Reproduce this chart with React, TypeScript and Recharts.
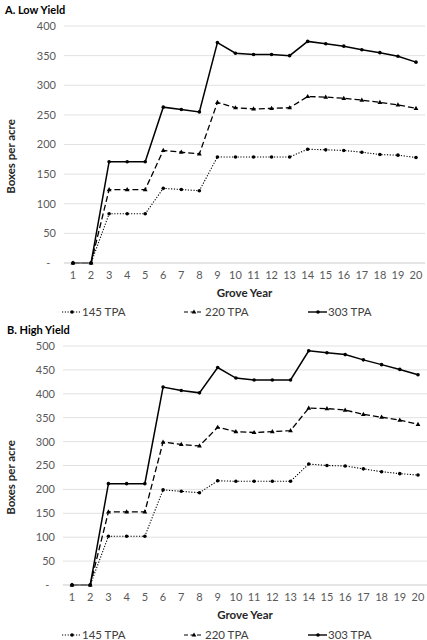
import { LineChart, Line, XAxis, YAxis, CartesianGrid } from "recharts";

const years = [1, 2, 3, 4, 5, 6, 7, 8, 9, 10, 11, 12, 13, 14, 15, 16, 17, 18, 19, 20];

// A. Low Yield
const low145 = [0, 0, 83, 83, 83, 126, 124, 122, 179, 179, 179, 179, 179, 192, 191, 190, 187, 183, 182, 178];
const low220 = [0, 0, 124, 124, 124, 190, 187, 184, 271, 262, 260, 261, 262, 281, 280, 278, 275, 271, 267, 261];
const low303 = [0, 0, 171, 171, 171, 263, 259, 255, 372, 354, 352, 352, 350, 374, 370, 366, 360, 355, 349, 339];
const lowTicks = [0, 50, 100, 150, 200, 250, 300, 350, 400];

// B. High Yield
const high145 = [0, 0, 102, 102, 102, 199, 196, 193, 218, 217, 217, 217, 217, 253, 250, 249, 243, 237, 233, 230];
const high220 = [0, 0, 153, 153, 153, 299, 294, 291, 330, 321, 319, 321, 323, 370, 369, 366, 357, 351, 345, 336];
const high303 = [0, 0, 212, 212, 212, 414, 407, 402, 455, 433, 429, 429, 429, 490, 486, 482, 471, 461, 451, 440];
const highTicks = [0, 50, 100, 150, 200, 250, 300, 350, 400, 450, 500];

const seriesNames = ["145 TPA", "220 TPA", "303 TPA"];

const FONT = "Lato, 'Open Sans', sans-serif";
const TICK_COLOR = "#595959";

function buildRows(a: number[], b: number[], c: number[]) {
  return years.map((y, i) => ({ year: String(y), t145: a[i], t220: b[i], t303: c[i] }));
}

const roundDot = (props: any) => (
  <circle key={`c-${props.dataKey}-${props.index}`} cx={props.cx} cy={props.cy} r={1.8} fill="#000" />
);

const triDot = (props: any) => {
  const { cx, cy } = props;
  return (
    <path
      key={`t-${props.index}`}
      d={`M${cx},${cy - 2.6}L${cx + 2.4},${cy + 1.6}L${cx - 2.4},${cy + 1.6}Z`}
      fill="#000"
    />
  );
};

const YLabel = ({ viewBox }: any) => {
  const x = 10;
  const y = viewBox.y + viewBox.height / 2 + 12;
  return (
    <text
      x={x}
      y={y}
      transform={`rotate(-90, ${x}, ${y})`}
      textAnchor="middle"
      dominantBaseline="central"
      fontFamily={FONT}
      fontSize={11.5}
      fontWeight={700}
      fill="#262626"
    >
      Boxes per acre
    </text>
  );
};

const legendItems = [
  { name: seriesNames[0], dash: "1.2 1.6", tri: false, lineX: 62, textX: 82 },
  { name: seriesNames[1], dash: "4 2.5", tri: true, lineX: 184, textX: 205 },
  { name: seriesNames[2], dash: undefined, tri: false, lineX: 308, textX: 328 },
];

function LegendRow({ top }: { top: number }) {
  return (
    <div style={{ position: "absolute", left: 0, top, width: 427, height: 14 }}>
      {legendItems.map((it) => (
        <div key={it.name}>
          <svg
            width={20}
            height={14}
            style={{ position: "absolute", left: it.lineX, top: 0 }}
          >
            <line x1={0} x2={19} y1={7} y2={7} stroke="#000" strokeWidth={it.dash ? 1.1 : 1.4} strokeDasharray={it.dash} />
            {it.tri ? (
              <path d="M10,4.4L12.4,8.6L7.6,8.6Z" fill="#000" />
            ) : (
              <circle cx={10} cy={7} r={1.8} fill="#000" />
            )}
          </svg>
          <span
            style={{
              position: "absolute",
              left: it.textX,
              top: 0,
              lineHeight: "14px",
              fontSize: 11.5,
              fontFamily: FONT,
              color: "#404040",
              whiteSpace: "nowrap",
            }}
          >
            {it.name}
          </span>
        </div>
      ))}
    </div>
  );
}

function Panel({
  top,
  title,
  titleLeft,
  rows,
  ticks,
  yWidth,
  rightMargin,
  height,
}: {
  top: number;
  title: string;
  titleLeft: number;
  rows: any[];
  ticks: number[];
  yWidth: number;
  rightMargin: number;
  height: number;
}) {
  return (
    <div style={{ position: "absolute", left: 0, top, width: 427, height }}>
      <div
        style={{
          position: "absolute",
          left: titleLeft,
          top: 3,
          fontFamily: FONT,
          fontSize: 11,
          fontWeight: 700,
          color: "#000",
          lineHeight: "14px",
        }}
      >
        {title}
      </div>
      <LineChart
        width={427}
        height={height}
        data={rows}
        margin={{ top: 26, right: rightMargin, left: 0, bottom: 0 }}
      >
        <CartesianGrid vertical={false} stroke="#d9d9d9" strokeWidth={0.8} />
        <XAxis
          dataKey="year"
          height={38}
          padding={{ left: 9, right: 9 }}
          axisLine={{ stroke: "#d9d9d9" }}
          tickLine={false}
          interval={0}
          tick={{ fontSize: 11, fill: TICK_COLOR, fontFamily: FONT }}
          label={{
            value: "Grove Year",
            position: "insideBottom",
            offset: 4,
            style: { fontSize: 11.5, fontWeight: 700, fill: "#262626", fontFamily: FONT },
          }}
        />
        <YAxis
          width={yWidth}
          domain={[ticks[0], ticks[ticks.length - 1]]}
          ticks={ticks}
          interval={0}
          axisLine={false}
          tickLine={false}
          tick={{ fontSize: 11, fill: TICK_COLOR, fontFamily: FONT }}
          tickFormatter={(v: number) => (v === 0 ? "-\u00a0\u00a0" : String(v))}
          label={<YLabel />}
        />
        <Line
          dataKey="t145"
          name={seriesNames[0]}
          stroke="#000"
          strokeWidth={1.1}
          strokeDasharray="1.2 1.6"
          dot={roundDot}
          isAnimationActive={false}
        />
        <Line
          dataKey="t220"
          name={seriesNames[1]}
          stroke="#000"
          strokeWidth={1.3}
          strokeDasharray="6 3"
          dot={triDot}
          isAnimationActive={false}
        />
        <Line
          dataKey="t303"
          name={seriesNames[2]}
          stroke="#000"
          strokeWidth={1.5}
          dot={roundDot}
          isAnimationActive={false}
        />
      </LineChart>
    </div>
  );
}

export default function App() {
  return (
    <div
      style={{
        position: "absolute",
        left: 0,
        top: 0,
        width: 427,
        height: 640,
        background: "#fff",
        overflow: "hidden",
      }}
    >
      <Panel
        top={0}
        title="A. Low Yield"
        titleLeft={5}
        rows={buildRows(low145, low220, low303)}
        ticks={lowTicks}
        yWidth={64}
        rightMargin={2}
        height={301}
      />
      <LegendRow top={305} />
      <Panel
        top={320}
        title="B. High Yield"
        titleLeft={7}
        rows={buildRows(high145, high220, high303)}
        ticks={highTicks}
        yWidth={63}
        rightMargin={0}
        height={303}
      />
      <LegendRow top={628} />
    </div>
  );
}
